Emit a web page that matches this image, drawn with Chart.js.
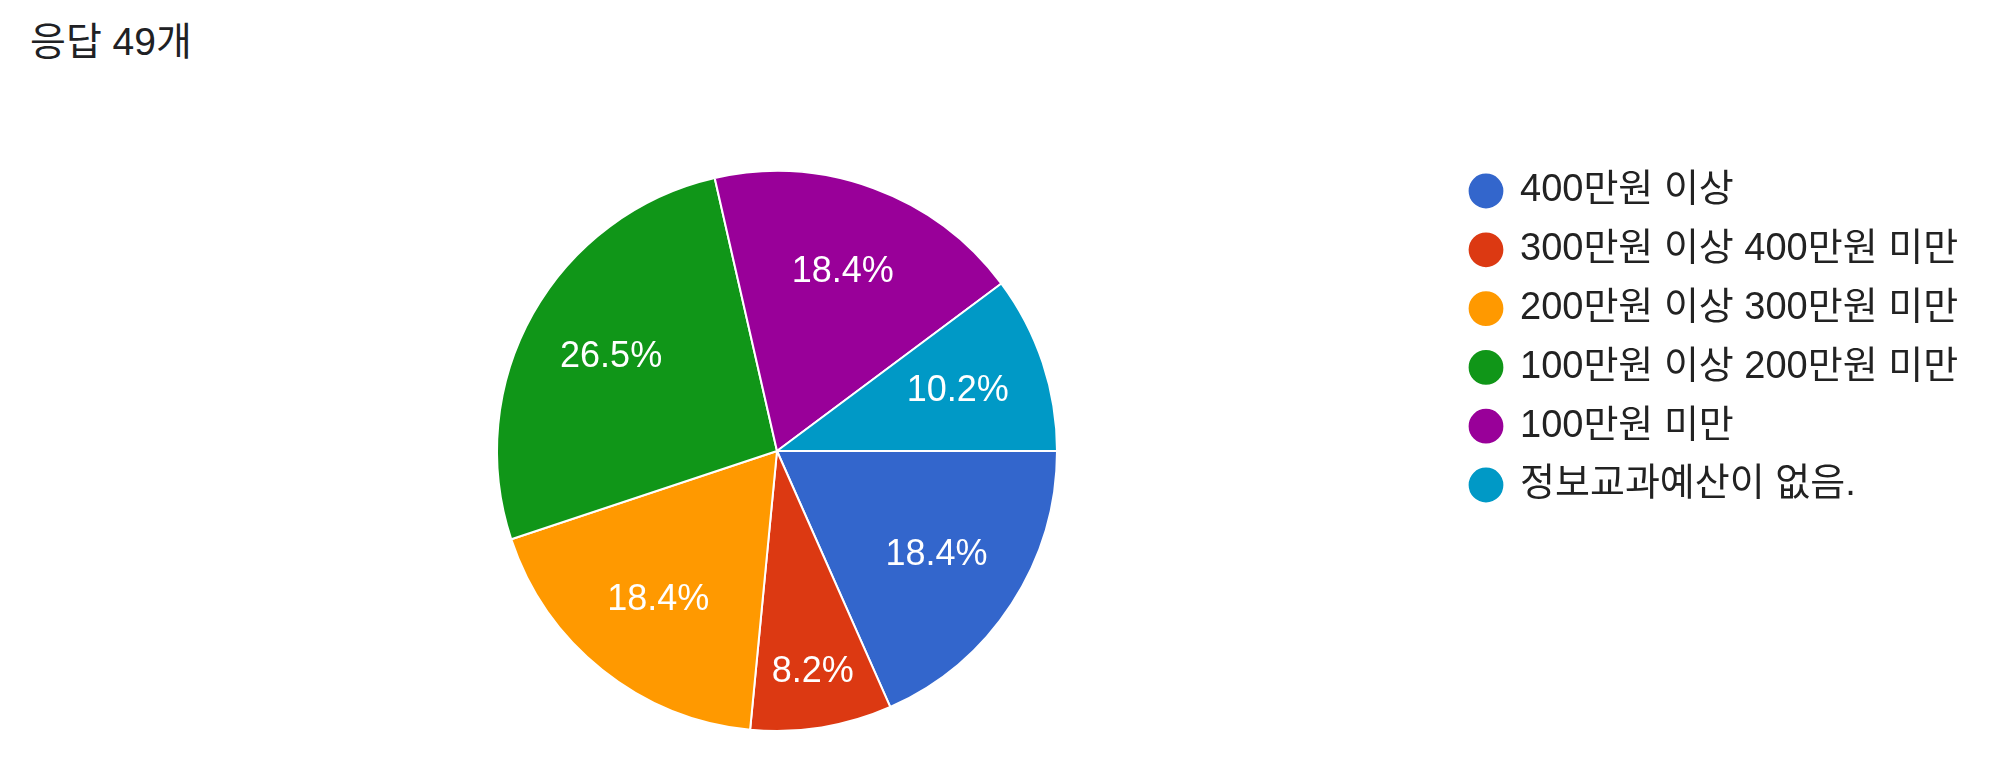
<!DOCTYPE html>
<html lang="ko">
<head>
<meta charset="utf-8">
<script src="https://cdn.jsdelivr.net/npm/chart.js@4.4.1/dist/chart.umd.min.js"></script>
<style>
  html, body { margin: 0; padding: 0; background: #fff; }
  #wrap { position: relative; width: 2000px; height: 774px; }
  #title { position: absolute; left: 30px; top: 20px; font-size: 39px; line-height: 44px;
           font-family: 'Liberation Sans', 'Noto Sans CJK KR', sans-serif; color: #202124; }
  #chart { position: absolute; left: 0; top: 0; }
</style>
</head>
<body>
<div id="wrap">
  <div id="title">응답 49개</div>
  <canvas id="chart" width="2000" height="774"></canvas>
</div>
<script>
// 정보교과 예산 응답 (49명)
const categories = ['400만원 이상', '300만원 이상 400만원 미만', '200만원 이상 300만원 미만', '100만원 이상 200만원 미만', '100만원 미만', '정보교과예산이 없음.'];
const counts = [9, 4, 9, 13, 9, 5];
const colors = ['#3366cc', '#dc3912', '#ff9900', '#109618', '#990099', '#0099c6'];

const FONT = "'Liberation Sans', 'Noto Sans CJK KR', sans-serif";
const PIE_CX = 777, PIE_CY = 451, PIE_R = 280;
const DOT_X = 1486, FIRST_ROW_Y = 191, ROW_GAP = 58.8, LEGEND_SIZE = 38, DOT_BOX = 30;
const LEGEND_PAD = ROW_GAP - LEGEND_SIZE;
const LABEL_SIZE = 36;

// percent labels inside slices; pushed outward when the wedge is too narrow for the text
const sliceLabels = {
  id: 'sliceLabels',
  afterDatasetsDraw(chart) {
    const { ctx } = chart;
    const total = counts.reduce((a, b) => a + b, 0);
    ctx.save();
    ctx.font = `${LABEL_SIZE}px ${FONT}`;
    ctx.fillStyle = '#fff';
    ctx.textAlign = 'center';
    ctx.textBaseline = 'middle';
    chart.getDatasetMeta(0).data.forEach((arc, i) => {
      const { x, y, startAngle, endAngle, outerRadius } = arc.getProps(['x', 'y', 'startAngle', 'endAngle', 'outerRadius'], true);
      const text = (counts[i] / total * 100).toFixed(1) + '%';
      const mid = (startAngle + endAngle) / 2;
      const half = (endAngle - startAngle) / 2;
      const a = ctx.measureText(text).width / 2, b = LABEL_SIZE * 0.37;
      const c = Math.abs(Math.cos(mid)), s = Math.abs(Math.sin(mid));
      const need = half < Math.PI / 2 ? (a * s + b * c + 11) / Math.tan(half) + (a * c + b * s) : 0;
      const r = Math.max(outerRadius * 0.68, need);
      ctx.fillText(text, x + Math.cos(mid) * r, y + Math.sin(mid) * r);
    });
    ctx.restore();
  }
};

const padTop = FIRST_ROW_Y - LEGEND_PAD - LEGEND_SIZE / 2;
const chart = new Chart(document.getElementById('chart'), {
  type: 'pie',
  data: {
    labels: categories,
    datasets: [{ data: counts, backgroundColor: colors, borderColor: '#fff', borderWidth: 2, radius: PIE_R }]
  },
  options: {
    responsive: false,
    animation: false,
    rotation: 90,
    layout: { padding: { top: padTop, bottom: 774 - (2 * PIE_CY - padTop), left: 100, right: 20 } },
    plugins: {
      tooltip: { enabled: false },
      legend: {
        position: 'right',
        align: 'start',
        labels: {
          usePointStyle: true, pointStyle: 'circle',
          boxWidth: DOT_BOX, boxHeight: 26, padding: LEGEND_PAD,
          color: '#222', font: { size: LEGEND_SIZE, family: FONT }
        }
      }
    }
  },
  plugins: [sliceLabels]
});

// line up legend dots and pie centre with the reference
const lg = chart.legend;
const shift = (lg.left + LEGEND_PAD + DOT_BOX / 2) - DOT_X;
chart.options.layout.padding.right += shift;
chart.options.layout.padding.left = 2 * PIE_CX - (lg.left - shift);
chart.update();
</script>
</body>
</html>
